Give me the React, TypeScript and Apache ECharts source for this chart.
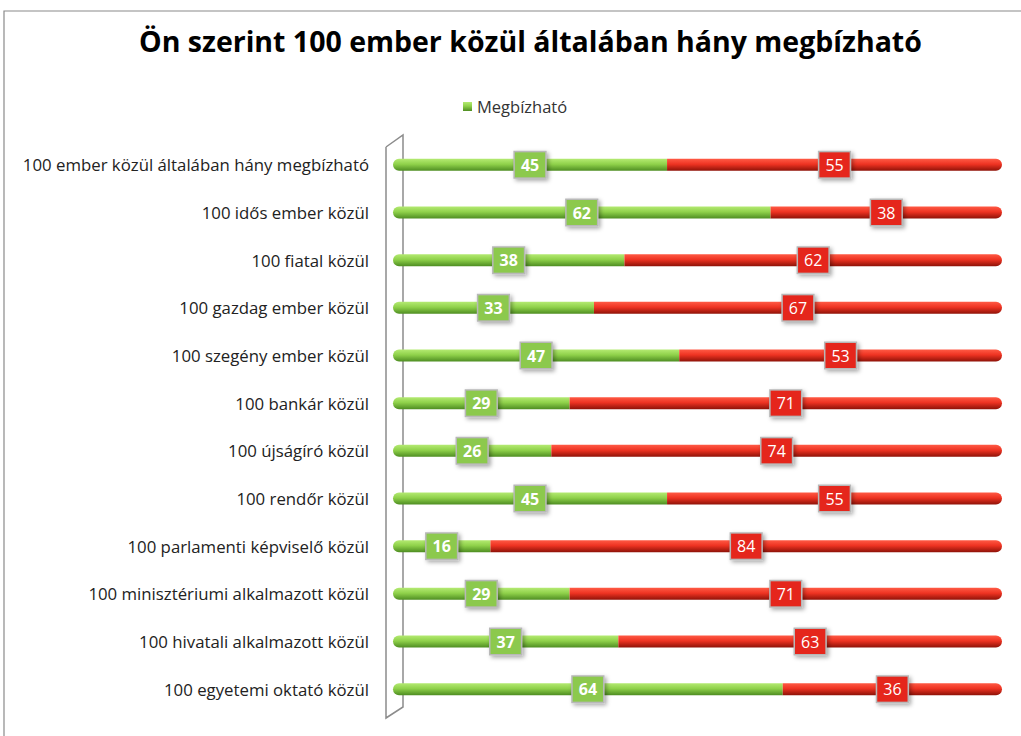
import React, { useEffect, useRef } from "react";
import * as echarts from "echarts";

const categories = [
  "100 ember közül általában hány megbízható",
  "100 idős ember közül",
  "100 fiatal közül",
  "100 gazdag ember közül",
  "100 szegény ember közül",
  "100 bankár közül",
  "100 újságíró közül",
  "100 rendőr közül",
  "100 parlamenti képviselő közül",
  "100 minisztériumi alkalmazott közül",
  "100 hivatali alkalmazott közül",
  "100 egyetemi oktató közül",
];
const trusted = [45, 62, 38, 33, 47, 29, 26, 45, 16, 29, 37, 64];
const untrusted = [55, 38, 62, 67, 53, 71, 74, 55, 84, 71, 63, 36];

export default function App() {
  const ref = useRef<HTMLDivElement>(null);
  useEffect(() => {
    if (!ref.current) return;
    const chart = echarts.init(ref.current, null, { renderer: "svg" });
    const grad = (a: string, b: string, c: string) =>
      new echarts.graphic.LinearGradient(0, 0, 0, 1, [
        { offset: 0, color: a },
        { offset: 0.45, color: b },
        { offset: 1, color: c },
      ]);
    const labelBase = {
      show: true,
      position: "inside",
      fontFamily: "Open Sans",
      fontSize: 16,
      color: "#ffffff",
      padding: [5, 6, 4, 6],
      borderColor: "#b8b8b8",
      borderWidth: 1.5,
      shadowBlur: 4,
      shadowColor: "rgba(0,0,0,0.35)",
      shadowOffsetX: 2,
      shadowOffsetY: 2,
    };
    chart.setOption({
      animation: false,
      title: {
        text: "Ön szerint 100 ember közül általában hány megbízható",
        left: 134,
        top: 21,
        textStyle: { fontFamily: "Open Sans", fontSize: 28.5, fontWeight: "bold", color: "#000" },
      },
      legend: {
        data: ["Megbízható"],
        left: 458,
        top: 93,
        icon: "rect",
        itemWidth: 9,
        itemHeight: 9,
        itemGap: 5,
        textStyle: { fontFamily: "Open Sans", fontSize: 16.5, color: "#333" },
      },
      grid: { left: 393, right: 19, top: 141, bottom: 23 },
      xAxis: {
        type: "value",
        min: 0,
        max: 100,
        show: false,
      },
      yAxis: {
        type: "category",
        data: categories,
        inverse: true,
        axisLine: { show: false },
        axisTick: { show: false },
        axisLabel: { fontFamily: "Open Sans", fontSize: 16.8, color: "#222", margin: 24 },
      },
      graphic: [
        {
          type: "rect",
          shape: { x: 4, y: 11, width: 1040, height: 760 },
          style: { fill: "none", stroke: "#8a8a8a", lineWidth: 1.2 },
          silent: true,
        },
        {
          type: "polyline",
          shape: { points: [[386, 147], [403, 135], [403, 707], [386, 718], [386, 147]] },
          style: { fill: "none", stroke: "#8c8c8c", lineWidth: 1.5 },
          silent: true,
        },
      ],
      series: [
        {
          name: "Megbízható",
          type: "bar",
          stack: "t",
          barWidth: 12,
          data: trusted,
          itemStyle: {
            color: grad("#b4ea72", "#8fd14a", "#4e8d22"),
            borderRadius: [6, 0, 0, 6],
          },
          label: { ...labelBase, fontWeight: "bold", backgroundColor: "#8cc94e" },
        },
        {
          name: "Nem megbízható",
          type: "bar",
          stack: "t",
          barWidth: 12,
          data: untrusted,
          itemStyle: {
            color: grad("#ff5a45", "#ee3322", "#8e1208"),
            borderRadius: [0, 6, 6, 0],
          },
          label: { ...labelBase, fontWeight: "normal", backgroundColor: "#e5261b" },
        },
      ],
      color: ["#8cc94e", "#e5261b"],
    });
    return () => chart.dispose();
  }, []);
  return (
    <div
      ref={ref}
      style={{ position: "fixed", left: 0, top: 0, width: 1021, height: 736, background: "#fff" }}
    />
  );
}
